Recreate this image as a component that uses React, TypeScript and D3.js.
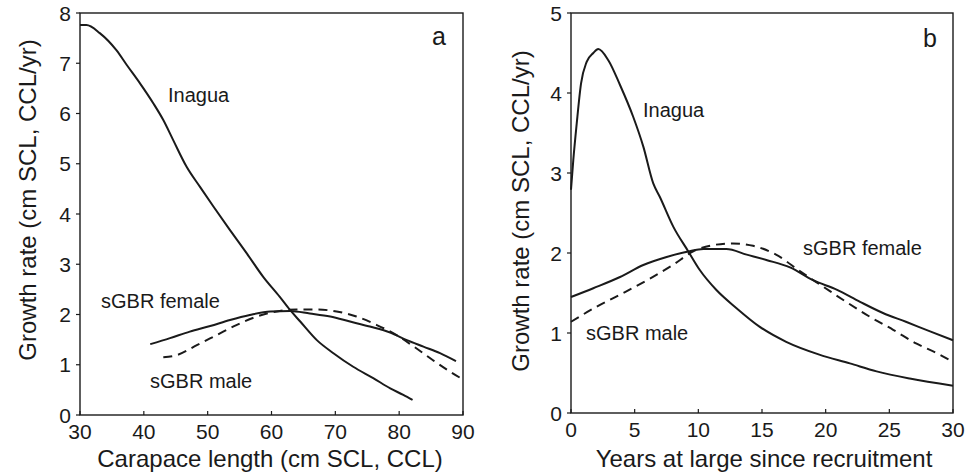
import { useEffect, useRef } from "react";
import * as d3 from "d3";

// ---- panel a: growth rate vs carapace length ----
const lengthTicks = [30, 40, 50, 60, 70, 80, 90];
const rateTicksA = [0, 1, 2, 3, 4, 5, 6, 7, 8];

const inaguaByLength: [number, number][] = [
  [30, 7.76], [31, 7.76], [33.1, 7.6], [35.7, 7.26], [37.3, 6.97], [39.4, 6.6],
  [41.5, 6.2], [43.05, 5.87], [44.6, 5.47], [46.7, 4.94], [48.8, 4.54],
  [50.9, 4.15], [53.5, 3.68], [56.1, 3.22], [58.7, 2.75], [61.3, 2.35],
  [62.9, 2.09], [64.5, 1.86], [67.1, 1.49], [69.7, 1.23], [72.8, 0.96],
  [76.0, 0.73], [78.6, 0.53], [80.65, 0.4], [82.1, 0.3],
];
const femaleByLength: [number, number][] = [
  [41.0, 1.41], [44.1, 1.53], [47.2, 1.66], [50.4, 1.77], [53.5, 1.89],
  [56.6, 1.99], [59.8, 2.06], [62.9, 2.07], [66.0, 2.02], [69.2, 1.96],
  [72.3, 1.86], [75.4, 1.76], [78.6, 1.64], [81.2, 1.49], [83.8, 1.36],
  [86.4, 1.23], [88.9, 1.07],
];
const maleByLength: [number, number][] = [
  [43.05, 1.15], [45.1, 1.19], [48.3, 1.39], [51.4, 1.59], [54.5, 1.79],
  [57.7, 1.96], [60.8, 2.06], [63.9, 2.1], [67.1, 2.1], [70.2, 2.06],
  [73.3, 1.96], [76.5, 1.79], [79.6, 1.59], [82.2, 1.37], [85.3, 1.09],
  [88.0, 0.86], [89.95, 0.71],
];

// ---- panel b: growth rate vs years at large ----
const yearTicks = [0, 5, 10, 15, 20, 25, 30];
const rateTicksB = [0, 1, 2, 3, 4, 5];

const inaguaByYear: [number, number][] = [
  [0, 2.79], [0.18, 3.16], [0.45, 3.62], [0.79, 4.12], [1.23, 4.39],
  [1.75, 4.5], [2.14, 4.55], [2.93, 4.41], [3.85, 4.1], [4.89, 3.7],
  [5.68, 3.33], [6.46, 2.87], [6.98, 2.7], [8.03, 2.33], [9.21, 2.02],
  [10.1, 1.79], [11.4, 1.54], [13.0, 1.31], [14.8, 1.08], [16.9, 0.89],
  [19.5, 0.73], [21.9, 0.62], [24.0, 0.52], [26.6, 0.43], [30, 0.34],
];
const femaleByYear: [number, number][] = [
  [0, 1.45], [1.75, 1.56], [3.85, 1.7], [5.68, 1.85], [7.51, 1.95],
  [9.21, 2.02], [10.4, 2.05], [12.2, 2.05], [13.8, 1.98], [15.4, 1.91],
  [17.2, 1.82], [19.0, 1.66], [20.9, 1.54], [22.7, 1.39], [24.5, 1.25],
  [26.3, 1.14], [28.2, 1.02], [30, 0.91],
];
const maleByYear: [number, number][] = [
  [0, 1.14], [2.02, 1.33], [4.1, 1.5], [6.2, 1.68], [8.0, 1.85], [9.6, 2.02],
  [11.2, 2.1], [12.7, 2.12], [14.3, 2.09], [16.1, 1.98], [18.0, 1.77],
  [19.8, 1.58], [21.6, 1.39], [23.5, 1.2], [25.3, 1.04], [27.1, 0.87],
  [28.7, 0.75], [30, 0.64],
];

const FONT = "'Liberation Sans', Arial, Helvetica, sans-serif";
const INK = "#1a1a1a";

interface Label {
  text: string;
  x: number;
  y: number;
}

interface PanelSpec {
  xDomain: [number, number];
  yDomain: [number, number];
  left: number;
  right: number;
  top: number;
  bottom: number;
  xTicks: number[];
  yTicks: number[];
  xTitle: string;
  xTitleX: number;
  yTitleX: number;
  yTitleY: number;
  letter: Label;
  series: { data: [number, number][]; dashed: boolean }[];
  labels: Label[];
}

const panels: PanelSpec[] = [
  {
    xDomain: [30, 90],
    yDomain: [0, 8],
    left: 80,
    right: 463,
    top: 13,
    bottom: 415,
    xTicks: lengthTicks,
    yTicks: rateTicksA,
    xTitle: "Carapace length (cm SCL, CCL)",
    xTitleX: 270,
    yTitleX: 36,
    yTitleY: 200,
    letter: { text: "a", x: 439, y: 45 },
    series: [
      { data: inaguaByLength, dashed: false },
      { data: femaleByLength, dashed: false },
      { data: maleByLength, dashed: true },
    ],
    labels: [
      { text: "Inagua", x: 168, y: 102 },
      { text: "sGBR female", x: 101, y: 308 },
      { text: "sGBR male", x: 150, y: 388 },
    ],
  },
  {
    xDomain: [0, 30],
    yDomain: [0, 5],
    left: 571,
    right: 953,
    top: 13,
    bottom: 413,
    xTicks: yearTicks,
    yTicks: rateTicksB,
    xTitle: "Years at large since recruitment",
    xTitleX: 764,
    yTitleX: 529,
    yTitleY: 211,
    letter: { text: "b", x: 930, y: 47 },
    series: [
      { data: inaguaByYear, dashed: false },
      { data: femaleByYear, dashed: false },
      { data: maleByYear, dashed: true },
    ],
    labels: [
      { text: "Inagua", x: 643, y: 117 },
      { text: "sGBR female", x: 803, y: 255 },
      { text: "sGBR male", x: 586, y: 340 },
    ],
  },
];

export default function App() {
  const svgRef = useRef<SVGSVGElement>(null);

  useEffect(() => {
    if (!svgRef.current) return;
    const svg = d3.select(svgRef.current);
    svg.selectAll("*").remove();

    panels.forEach((p) => {
      const x = d3.scaleLinear().domain(p.xDomain).range([p.left, p.right]);
      const y = d3.scaleLinear().domain(p.yDomain).range([p.bottom, p.top]);
      const g = svg.append("g");

      // frame
      g.append("rect")
        .attr("x", p.left)
        .attr("y", p.top)
        .attr("width", p.right - p.left)
        .attr("height", p.bottom - p.top)
        .attr("fill", "none")
        .attr("stroke", INK)
        .attr("stroke-width", 1.4);

      // x ticks point inward
      g.selectAll("line.xt")
        .data(p.xTicks)
        .join("line")
        .attr("x1", (d) => x(d))
        .attr("x2", (d) => x(d))
        .attr("y1", p.bottom)
        .attr("y2", p.bottom - 4)
        .attr("stroke", INK)
        .attr("stroke-width", 1.2);

      g.selectAll("text.xl")
        .data(p.xTicks)
        .join("text")
        .attr("x", (d) => x(d))
        .attr("y", p.bottom + 24)
        .attr("text-anchor", "middle")
        .attr("font-family", FONT)
        .attr("font-size", 21)
        .attr("fill", INK)
        .text((d) => d);

      // y ticks point outward
      g.selectAll("line.yt")
        .data(p.yTicks)
        .join("line")
        .attr("x1", p.left)
        .attr("x2", p.left - 4)
        .attr("y1", (d) => y(d))
        .attr("y2", (d) => y(d))
        .attr("stroke", INK)
        .attr("stroke-width", 1.2);

      g.selectAll("text.yl")
        .data(p.yTicks)
        .join("text")
        .attr("x", p.left - 9)
        .attr("y", (d) => y(d) + 7.5)
        .attr("text-anchor", "end")
        .attr("font-family", FONT)
        .attr("font-size", 21)
        .attr("fill", INK)
        .text((d) => d);

      // axis titles
      g.append("text")
        .attr("x", p.xTitleX)
        .attr("y", 467)
        .attr("text-anchor", "middle")
        .attr("font-family", FONT)
        .attr("font-size", 24)
        .attr("fill", INK)
        .text(p.xTitle);

      g.append("text")
        .attr("transform", `translate(${p.yTitleX},${p.yTitleY}) rotate(-90)`)
        .attr("text-anchor", "middle")
        .attr("font-family", FONT)
        .attr("font-size", 24)
        .attr("fill", INK)
        .text("Growth rate (cm SCL, CCL/yr)");

      g.append("text")
        .attr("x", p.letter.x)
        .attr("y", p.letter.y)
        .attr("text-anchor", "middle")
        .attr("font-family", FONT)
        .attr("font-size", 25)
        .attr("fill", INK)
        .text(p.letter.text);

      // curves
      const line = d3
        .line<[number, number]>()
        .x((d) => x(d[0]))
        .y((d) => y(d[1]))
        .curve(d3.curveMonotoneX);

      p.series.forEach((s) => {
        g.append("path")
          .attr("d", line(s.data))
          .attr("fill", "none")
          .attr("stroke", INK)
          .attr("stroke-width", 2)
          .attr("stroke-linejoin", "round")
          .attr("stroke-dasharray", s.dashed ? "9,6" : null);
      });

      g.selectAll("text.lab")
        .data(p.labels)
        .join("text")
        .attr("x", (d) => d.x)
        .attr("y", (d) => d.y)
        .attr("font-family", FONT)
        .attr("font-size", 20)
        .attr("fill", INK)
        .text((d) => d.text);
    });
  }, []);

  return (
    <svg
      ref={svgRef}
      width={966}
      height={474}
      style={{ position: "absolute", left: 0, top: 0, background: "#fff" }}
    />
  );
}
